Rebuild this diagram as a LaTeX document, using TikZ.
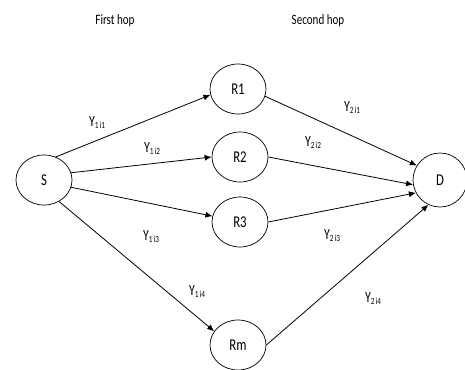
\documentclass[tikz,border=0pt]{standalone}
\usepackage{fontspec}
\setmainfont{Carlito}
\usetikzlibrary{shapes.geometric,arrows.meta}
% narrow, tall lettering
\newcommand\narrow[1]{\scalebox{0.85}[1.1]{#1}}
% channel gain label: Upsilon with a two-part subscript
\newcommand\chgain[2]{\narrow{Υ}\raisebox{-2pt}{\narrow{\fontsize{8.5}{8.5}\selectfont #1\,#2}}}
\begin{document}
\begin{tikzpicture}[x=1pt,y=-1pt,
  station/.style={ellipse,draw,line width=0.7pt,minimum width=56pt,minimum height=50pt,
                  inner sep=0pt,font=\fontsize{15}{15}\selectfont},
  link/.style={line width=0.8pt,-{Latex[length=7pt,width=6pt]}},
  gain/.style={font=\fontsize{14}{14}\selectfont,inner sep=0pt},
  hop/.style={font=\fontsize{13}{13}\selectfont,inner sep=0pt}]
\useasboundingbox (0,0) rectangle (465,369);
\node[hop] (h1) at (115,21) {\narrow{First hop}};
\node[hop] (h2) at (318,21) {\narrow{Second hop}};
% source, relays and destination
\node[station] (S)  at (44,180)  {\narrow{S}};
\node[station] (R1) at (238,89)  {\narrow{R1}};
\node[station] (R2) at (240,157) {\narrow{R2}};
\node[station] (R3) at (240,222) {\narrow{R3}};
\node[station] (Rm) at (238,345) {\narrow{Rm}};
\node[station,minimum width=54pt,minimum height=54pt] (D) at (440,180) {\narrow{D}};
% first hop links
\draw[link] (S.63)  -- (R1.192);
\draw[link] (S.15)  -- (R2.180);
\draw[link] (S.-15) -- (R3.168);
\draw[link] (S.-55) -- (Rm.150);
% second hop links
\draw[link] (R1.-15) -- (D.148);
\draw[link] (R2.0)   -- (D.190);
\draw[link] (R3.0)   -- (D.208);
\draw[link] (Rm.0)   -- (D.-115);
% gain labels
\node[gain] (g11) at (97,123)  {\chgain{1}{i1}};
\node[gain] (g12) at (152,149) {\chgain{1}{i2}};
\node[gain] (g13) at (151,237) {\chgain{1}{i3}};
\node[gain] (g14) at (197,292) {\chgain{1}{i4}};
\node[gain] (g21) at (352,108) {\chgain{2}{i1}};
\node[gain] (g22) at (313,143) {\chgain{2}{i2}};
\node[gain] (g23) at (332,236) {\chgain{2}{i3}};
\node[gain] (g24) at (373,299) {\chgain{2}{i4}};
\end{tikzpicture}
\end{document}
